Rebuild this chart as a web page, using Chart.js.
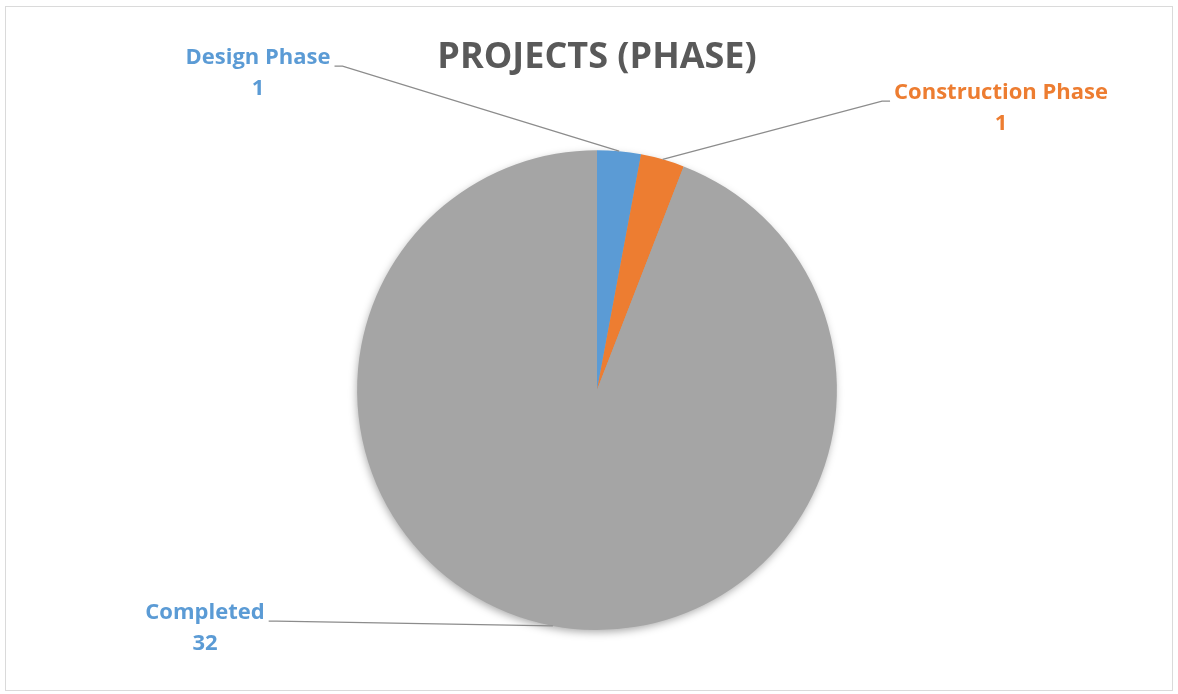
<!DOCTYPE html>
<html>
<head>
<meta charset="utf-8">
<title>Projects (Phase)</title>
<script src="https://cdn.jsdelivr.net/npm/chart.js@4.4.0/dist/chart.umd.min.js"></script>
<style>
  html, body { margin: 0; padding: 0; background: #fff; }
  #wrap { position: relative; width: 1178px; height: 694px; }
  #frame { position: absolute; left: 5px; top: 6px; right: 5px; bottom: 3px; border: 1px solid #dadada; pointer-events: none; }
</style>
</head>
<body>
<div id="wrap">
  <canvas id="pie-chart" width="1178" height="694"></canvas>
  <div id="frame"></div>
</div>
<script>
// chart data
const categories = ["Design Phase", "Construction Phase", "Completed"];
const projectCounts = [1, 1, 32];
const sliceColors = ["#5B9BD5", "#ED7D31", "#A5A5A5"];
const labelColors = ["#5B9BD5", "#ED7D31", "#5B9BD5"];

// where each data label sits, relative to the pie centre (px)
const labelSpots = [
  { dx: -339, dy: -332, side: "left" },
  { dx: 404, dy: -297, side: "right" },
  { dx: -392, dy: 223, side: "left" },
];

// soft drop shadow under the whole pie
const pieShadow = {
  id: "pieShadow",
  beforeDatasetsDraw(chart) {
    const arc = chart.getDatasetMeta(0).data[0];
    if (!arc) return;
    const ctx = chart.ctx;
    ctx.save();
    ctx.shadowColor = "rgba(0,0,0,0.35)";
    ctx.shadowBlur = 9;
    ctx.shadowOffsetX = -1;
    ctx.shadowOffsetY = 3;
    ctx.fillStyle = "#A5A5A5";
    ctx.beginPath();
    ctx.arc(arc.x, arc.y, arc.outerRadius - 1, 0, Math.PI * 2);
    ctx.fill();
    ctx.restore();
  },
};

// data labels with leader lines, like the office chart
const leaderLabels = {
  id: "leaderLabels",
  afterDraw(chart) {
    const ctx = chart.ctx;
    const meta = chart.getDatasetMeta(0);
    ctx.save();
    ctx.font = "bold 22px 'Open Sans', Lato, sans-serif";
    ctx.textBaseline = "middle";
    ctx.textAlign = "center";
    meta.data.forEach((arc, i) => {
      const spot = labelSpots[i];
      const tx = arc.x + spot.dx;
      const ty = arc.y + spot.dy;
      const name = categories[i];
      const w = ctx.measureText(name).width;

      // leader line: short horizontal piece, then to the middle of the slice edge
      const mid = (arc.startAngle + arc.endAngle) / 2;
      const ex = arc.x + Math.cos(mid) * arc.outerRadius;
      const ey = arc.y + Math.sin(mid) * arc.outerRadius;
      const dir = spot.side === "left" ? 1 : -1;
      const sx = tx + dir * (w / 2 + 4);
      const sy = ty + 8;
      ctx.strokeStyle = "#8c8c8c";
      ctx.lineWidth = 1.3;
      ctx.beginPath();
      ctx.moveTo(sx, sy);
      ctx.lineTo(sx + dir * 8, sy);
      ctx.lineTo(ex, ey);
      ctx.stroke();

      ctx.fillStyle = labelColors[i];
      ctx.fillText(name, tx, ty);
      ctx.fillText(String(projectCounts[i]), tx, ty + 31);
    });
    ctx.restore();
  },
};

new Chart(document.getElementById("pie-chart"), {
  type: "pie",
  data: {
    labels: categories,
    datasets: [
      {
        data: projectCounts,
        backgroundColor: sliceColors,
        borderWidth: 0,
      },
    ],
  },
  options: {
    responsive: false,
    animation: false,
    layout: { padding: { left: 16, right: 0, top: 0, bottom: 64 } },
    plugins: {
      legend: { display: false },
      tooltip: { enabled: false },
      title: {
        display: true,
        text: "PROJECTS (PHASE)",
        color: "#595959",
        font: { family: "'Open Sans', Lato, sans-serif", size: 36, weight: "bold", lineHeight: 1.2 },
        padding: { top: 36, bottom: 71 },
      },
    },
  },
  plugins: [pieShadow, leaderLabels],
});
</script>
</body>
</html>
